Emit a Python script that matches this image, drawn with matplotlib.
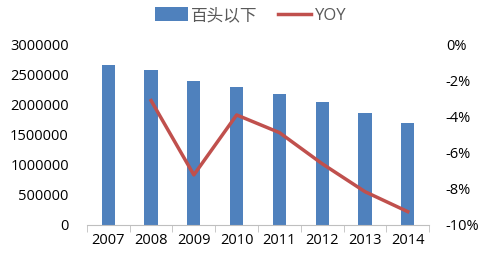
import numpy as np
import matplotlib.pyplot as plt
from matplotlib.ticker import FuncFormatter

plt.rcParams['font.family'] = ['Open Sans', 'Noto Sans CJK SC', 'DejaVu Sans']

years = ['2007', '2008', '2009', '2010', '2011', '2012', '2013', '2014']
below_100 = [2667000, 2578000, 2395000, 2300000, 2190000, 2045000, 1872000, 1700000]
yoy_years = years[1:]
yoy = [-3.09, -7.22, -3.89, -4.87, -6.6, -8.15, -9.26]

fig = plt.figure(figsize=(4.91, 2.58), dpi=100)
ax = fig.add_axes([0.177, 0.128, 0.697, 0.698])
x = np.arange(len(years))
bars = ax.bar(x, below_100, width=0.31, color='#4F81BD', label='百头以下')
ax.set_xlim(-0.5, len(years) - 0.5)
ax.set_ylim(0, 3000000)
ax.set_yticks(np.arange(0, 3000001, 500000))
ax.yaxis.set_major_formatter(FuncFormatter(lambda v, p: '%d' % v))
ax.set_xticks(x)
ax.set_xticklabels(years)
ax.set_xticks(np.arange(-0.5, len(years), 1), minor=True)
ax.tick_params(axis='x', which='major', length=0, labelsize=10.5, pad=6)
ax.tick_params(axis='x', which='minor', length=5, color='#BFBFBF', direction='out')
ax.tick_params(axis='y', length=0, labelsize=10.5, pad=13)
for s in ['top', 'right', 'left']:
    ax.spines[s].set_visible(False)
ax.spines['bottom'].set_color('#BFBFBF')

ax2 = ax.twinx()
xi = np.arange(1, len(years))
line, = ax2.plot(xi, yoy, color='#C0504D', lw=2.5, label='YOY')
ax2.set_ylim(-10, 0)
ax2.set_yticks(np.arange(-10, 0.1, 2))
ax2.yaxis.set_major_formatter(FuncFormatter(lambda v, p: '%d%%' % round(v)))
ax2.tick_params(axis='y', length=0, labelsize=10.5, pad=12)
for s in ['top', 'right', 'left', 'bottom']:
    ax2.spines[s].set_visible(False)

leg = fig.legend([bars, line], ['百头以下', 'YOY'], loc='upper center',
                 bbox_to_anchor=(0.51, 1.03), ncol=2, frameon=False,
                 fontsize=12, handlelength=2.0, handleheight=0.9,
                 handletextpad=0.2, columnspacing=1.2)
for t in leg.get_texts():
    t.set_color('#595959')

fig.savefig('out.png', dpi=100)
